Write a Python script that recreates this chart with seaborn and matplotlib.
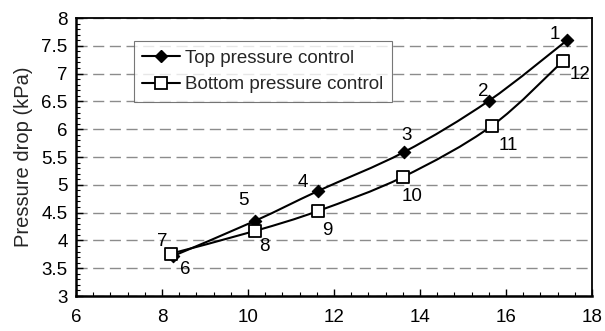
import numpy as np
import pandas as pd
import seaborn as sns
import matplotlib.pyplot as plt
from matplotlib.path import Path
from matplotlib.patches import PathPatch
from matplotlib.lines import Line2D
from matplotlib.ticker import MultipleLocator

# Measured operating points
top_flow = [17.42, 15.60, 13.63, 11.63, 10.16, 8.26]
top_dp = [7.60, 6.51, 5.59, 4.89, 4.35, 3.72]
top_ids = ["1", "2", "3", "4", "5", "6"]

bottom_flow = [8.20, 10.16, 11.63, 13.60, 15.67, 17.33]
bottom_dp = [3.76, 4.17, 4.53, 5.14, 6.06, 7.23]
bottom_ids = ["7", "8", "9", "10", "11", "12"]

series_names = ["Top pressure control", "Bottom pressure control"]

# label offsets in points (dx, dy)
top_offsets = [(-9, 4), (-4, 7), (2, 12), (-11, 6), (-8, 15), (9, -10)]
bottom_offsets = [(-6, 9), (7, -11), (7, -14), (7, -14), (12, -14), (12, -10)]

FS = 13.5

sns.set_theme(style="white")
plt.rcParams["font.family"] = ["Liberation Sans", "DejaVu Sans"]

df = pd.DataFrame({
    "flow": top_flow + bottom_flow,
    "dp": top_dp + bottom_dp,
    "series": [series_names[0]] * len(top_flow) + [series_names[1]] * len(bottom_flow),
})

fig, ax = plt.subplots(figsize=(6.05, 3.31), dpi=100)
fig.subplots_adjust(left=0.1256, right=0.9785, top=0.9456, bottom=0.1057)


def smooth_path(xs, ys):
    # Catmull-Rom style cubic Bezier through the points
    order = np.argsort(xs)
    p = np.column_stack([np.asarray(xs)[order], np.asarray(ys)[order]])
    n = len(p)
    verts = [p[0]]
    codes = [Path.MOVETO]
    for i in range(n - 1):
        p0 = p[i - 1] if i > 0 else p[i]
        p1 = p[i]
        p2 = p[i + 1]
        p3 = p[i + 2] if i + 2 < n else p[i + 1]
        c1 = p1 + (p2 - p0) / 6.0
        c2 = p2 - (p3 - p1) / 6.0
        verts += [c1, c2, p2]
        codes += [Path.CURVE4] * 3
    return Path(verts, codes)


for xs, ys in [(top_flow, top_dp), (bottom_flow, bottom_dp)]:
    ax.add_patch(PathPatch(smooth_path(xs, ys), facecolor="none",
                           edgecolor="black", lw=1.5, zorder=3))

sns.scatterplot(data=df[df.series == series_names[0]], x="flow", y="dp",
                marker="D", s=40, color="black", edgecolor="black",
                linewidth=0.8, ax=ax, zorder=4, legend=False)
sns.scatterplot(data=df[df.series == series_names[1]], x="flow", y="dp",
                marker="s", s=70, color="white", edgecolor="black",
                linewidth=1.3, ax=ax, zorder=4, legend=False)

for xs, ys, ids, offs in [(top_flow, top_dp, top_ids, top_offsets),
                          (bottom_flow, bottom_dp, bottom_ids, bottom_offsets)]:
    for x, y, t, (dx, dy) in zip(xs, ys, ids, offs):
        ax.annotate(t, (x, y), xytext=(dx, dy), textcoords="offset points",
                    ha="center", va="center", fontsize=FS, color="black")

ax.set_xlim(6, 18)
ax.set_ylim(3, 8)
ax.xaxis.set_major_locator(MultipleLocator(2))
ax.xaxis.set_minor_locator(MultipleLocator(0.4))
ax.yaxis.set_major_locator(MultipleLocator(0.5))
ax.yaxis.set_minor_locator(MultipleLocator(0.1))
ax.yaxis.set_major_formatter(plt.FuncFormatter(lambda v, _: f"{v:g}"))

ax.tick_params(axis="both", which="both", direction="in", colors="black",
               labelsize=FS, bottom=True, left=True, top=False, right=False)
ax.tick_params(axis="both", which="major", length=5, width=1, pad=9)
ax.tick_params(axis="y", which="major", pad=6)
ax.tick_params(axis="both", which="minor", length=3, width=0.8)

ax.yaxis.grid(True, which="major", color="#8c8c8c", linestyle=(0, (8, 4)), lw=1)
ax.set_axisbelow(True)

for side in ["left", "bottom"]:
    ax.spines[side].set_linewidth(1.8)
for side in ["top", "right"]:
    ax.spines[side].set_linewidth(1.3)
for s in ax.spines.values():
    s.set_color("black")

ax.set_xlabel("")
ax.set_ylabel("Pressure drop (kPa)", fontsize=14.5, labelpad=6)

handles = [
    Line2D([], [], color="black", lw=1.5, marker="D", markersize=6,
           markerfacecolor="black", markeredgecolor="black"),
    Line2D([], [], color="black", lw=1.5, marker="s", markersize=8,
           markerfacecolor="white", markeredgecolor="black", markeredgewidth=1.3),
]
leg = ax.legend(handles, series_names, loc="upper left",
                bbox_to_anchor=(0.112, 0.917), fontsize=FS, frameon=True,
                fancybox=False, edgecolor="#555555", handlelength=2.0,
                handletextpad=0.3, borderpad=0.45, labelspacing=0.5,
                borderaxespad=0)
leg.get_frame().set_linewidth(0.8)

fig.savefig("out.png", dpi=100)
